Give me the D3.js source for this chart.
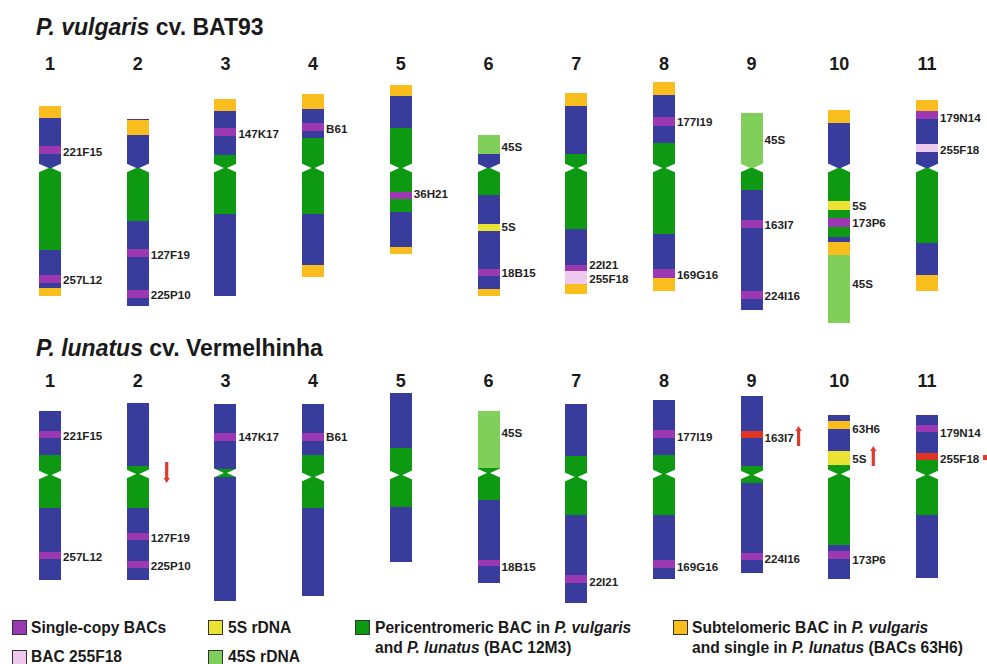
<!DOCTYPE html>
<html>
<head>
<meta charset="utf-8">
<script src="https://cdn.jsdelivr.net/npm/d3@7/dist/d3.min.js"></script>
<style>
  html, body { margin: 0; padding: 0; background: #fff; }
  svg { display: block; font-family: "Liberation Sans", Arial, Helvetica, sans-serif; }
</style>
</head>
<body>
<svg id="chart" width="987" height="664"></svg>
<script>
// Chromosome names (same in both species)
const chromosomes = ["1", "2", "3", "4", "5", "6", "7", "8", "9", "10", "11"];

// Band kinds and their colours
const bandKinds = ["arm", "peri", "sub", "bac", "f18", "r5s", "r45s", "hit"];
const bandColors = ["#383d9d", "#0e9912", "#f9bd1d", "#9c38b2", "#f0c9ee", "#ebe334", "#80cf5a", "#df3326"];

// P. vulgaris: [chromosome, from, to, kind] along the chromosome axis
const vulgarisBands = [
  ["1", 26, 38, "sub"], ["1", 38, 66, "arm"], ["1", 66, 74, "bac"], ["1", 74, 88, "arm"], ["1", 88, 170, "peri"],
  ["1", 170, 195, "arm"], ["1", 195, 203, "bac"], ["1", 203, 208, "arm"], ["1", 208, 216, "sub"],
  ["2", 39, 40, "arm"], ["2", 40, 55, "sub"], ["2", 55, 88, "arm"], ["2", 88, 141, "peri"], ["2", 141, 169, "arm"],
  ["2", 169, 177, "bac"], ["2", 177, 210, "arm"], ["2", 210, 218, "bac"], ["2", 218, 226, "arm"],
  ["3", 19, 31, "sub"], ["3", 31, 48, "arm"], ["3", 48, 56, "bac"], ["3", 56, 75, "arm"], ["3", 75, 134, "peri"],
  ["3", 134, 216, "arm"],
  ["4", 14, 29, "sub"], ["4", 29, 43, "arm"], ["4", 43, 51, "bac"], ["4", 51, 58, "arm"], ["4", 58, 134, "peri"],
  ["4", 134, 185, "arm"], ["4", 185, 197, "sub"],
  ["5", 5, 16, "sub"], ["5", 16, 48, "arm"], ["5", 48, 112, "peri"], ["5", 112, 119, "bac"], ["5", 119, 132, "peri"],
  ["5", 132, 167, "arm"], ["5", 167, 174, "sub"],
  ["6", 55, 74, "r45s"], ["6", 74, 88, "arm"], ["6", 88, 115, "peri"], ["6", 115, 144, "arm"], ["6", 144, 151, "r5s"],
  ["6", 151, 189, "arm"], ["6", 189, 196, "bac"], ["6", 196, 209, "arm"], ["6", 209, 216, "sub"],
  ["7", 13, 26, "sub"], ["7", 26, 74, "arm"], ["7", 74, 149, "peri"], ["7", 149, 185, "arm"], ["7", 185, 191, "bac"],
  ["7", 191, 204, "f18"], ["7", 204, 214, "sub"],
  ["8", 2, 15, "sub"], ["8", 15, 37, "arm"], ["8", 37, 46, "bac"], ["8", 46, 63, "arm"], ["8", 63, 154, "peri"],
  ["8", 154, 189, "arm"], ["8", 189, 198, "bac"], ["8", 198, 211, "sub"],
  ["9", 33, 88, "r45s"], ["9", 88, 110, "peri"], ["9", 110, 140, "arm"], ["9", 140, 148, "bac"], ["9", 148, 211, "arm"],
  ["9", 211, 219, "bac"], ["9", 219, 230, "arm"],
  ["10", 30, 43, "sub"], ["10", 43, 88, "arm"], ["10", 88, 121, "peri"], ["10", 121, 130, "r5s"], ["10", 130, 138, "peri"],
  ["10", 138, 147, "bac"], ["10", 147, 157, "peri"], ["10", 157, 162, "arm"], ["10", 162, 175, "sub"], ["10", 175, 243, "r45s"],
  ["11", 20, 31, "sub"], ["11", 31, 39, "bac"], ["11", 39, 64, "arm"], ["11", 64, 72, "f18"], ["11", 72, 88, "arm"],
  ["11", 88, 163, "peri"], ["11", 163, 195, "arm"], ["11", 195, 211, "sub"]
];
const vulgarisCentromeres = [88, 88, 88, 88, 88, 88, 88, 88, 88, 88, 88];
const vulgarisLabels = [
  ["1", 72, "221F15"], ["1", 200, "257L12"], ["2", 175, "127F19"], ["2", 215, "225P10"], ["3", 54, "147K17"],
  ["4", 49, "B61"], ["5", 114, "36H21"], ["6", 67, "45S"], ["6", 147, "5S"], ["6", 193, "18B15"],
  ["7", 185, "22I21"], ["7", 198.5, "255F18"], ["8", 42, "177I19"], ["8", 195, "169G16"], ["9", 60, "45S"],
  ["9", 145, "163I7"], ["9", 216, "224I16"], ["10", 126, "5S"], ["10", 143, "173P6"], ["10", 204, "45S"],
  ["11", 38, "179N14"], ["11", 70, "255F18"]
];

// P. lunatus
const lunatusBands = [
  ["1", 21, 41, "arm"], ["1", 41, 48, "bac"], ["1", 48, 65, "arm"], ["1", 65, 118, "peri"], ["1", 118, 162, "arm"],
  ["1", 162, 169, "bac"], ["1", 169, 190, "arm"],
  ["2", 13, 76, "arm"], ["2", 76, 118, "peri"], ["2", 118, 143, "arm"], ["2", 143, 150, "bac"], ["2", 150, 171, "arm"],
  ["2", 171, 178, "bac"], ["2", 178, 190, "arm"],
  ["3", 14, 43, "arm"], ["3", 43, 51, "bac"], ["3", 51, 79, "arm"], ["3", 79, 87, "peri"], ["3", 87, 211, "arm"],
  ["4", 14, 43, "arm"], ["4", 43, 51, "bac"], ["4", 51, 65, "arm"], ["4", 65, 118, "peri"], ["4", 118, 206, "arm"],
  ["5", 3, 58, "arm"], ["5", 58, 117, "peri"], ["5", 117, 172, "arm"],
  ["6", 21, 78, "r45s"], ["6", 78, 110, "peri"], ["6", 110, 170, "arm"], ["6", 170, 176, "bac"], ["6", 176, 193, "arm"],
  ["7", 14, 66, "arm"], ["7", 66, 125, "peri"], ["7", 125, 185, "arm"], ["7", 185, 193, "bac"], ["7", 193, 213, "arm"],
  ["8", 10, 40, "arm"], ["8", 40, 48, "bac"], ["8", 48, 65, "arm"], ["8", 65, 125, "peri"], ["8", 125, 170, "arm"],
  ["8", 170, 178, "bac"], ["8", 178, 189, "arm"],
  ["9", 6, 41, "arm"], ["9", 41, 48, "hit"], ["9", 48, 76, "arm"], ["9", 76, 93, "peri"], ["9", 93, 163, "arm"],
  ["9", 163, 170, "bac"], ["9", 170, 183, "arm"],
  ["10", 25, 31, "arm"], ["10", 31, 39, "sub"], ["10", 39, 61, "arm"], ["10", 61, 75, "r5s"], ["10", 75, 155, "peri"],
  ["10", 155, 161, "arm"], ["10", 161, 169, "bac"], ["10", 169, 189, "arm"],
  ["11", 25, 35, "arm"], ["11", 35, 42, "bac"], ["11", 42, 63, "arm"], ["11", 63, 70, "hit"], ["11", 70, 125, "peri"],
  ["11", 125, 188, "arm"]
];
const lunatusCentromeres = [85, 84, 83, 87, 85, 83, 87, 84, 85, 84, 85];
const lunatusLabels = [
  ["1", 46, "221F15"], ["1", 167, "257L12"], ["2", 148, "127F19"], ["2", 176, "225P10"], ["3", 47, "147K17"],
  ["4", 47, "B61"], ["6", 43, "45S"], ["6", 177, "18B15"], ["7", 192, "22I21"], ["8", 47, "177I19"],
  ["8", 177, "169G16"], ["9", 48, "163I7"], ["9", 169, "224I16"], ["10", 39, "63H6"], ["10", 69, "5S"],
  ["10", 170, "173P6"], ["11", 43, "179N14"], ["11", 69, "255F18"]
];
// Arrows: [chromosome, tail, head, offset to the right of the chromosome]
const lunatusArrows = [["2", 72, 93, 29], ["9", 56, 36, 47], ["10", 76, 56, 34]];
// Mark beside 255F18 on chromosome 11
const lunatusMarks = [["11", 65, 70, 56]];

// Legend entries
const legendKinds = ["bac", "f18", "r5s", "r45s", "peri", "sub"];
const legendTexts = [
  [["Single-copy BACs"]],
  [["BAC 255F18"]],
  [["5S rDNA"]],
  [["45S rDNA"]],
  [["Pericentromeric BAC in "], ["P. vulgaris", "i"], ["\n"], ["and "], ["P. lunatus", "i"], [" (BAC 12M3)"]],
  [["Subtelomeric BAC in "], ["P. vulgaris", "i"], ["\n"], ["and single in "], ["P. lunatus", "i"], [" (BACs 63H6)"]]
];

const titles = [
  [["P. vulgaris", "i"], [" cv. BAT93"]],
  [["P. lunatus", "i"], [" cv. Vermelhinha"]]
];

// ---------------------------------------------------------------------------
const svg = d3.select("#chart");
const color = d3.scaleOrdinal().domain(bandKinds).range(bandColors);
const x = d3.scalePoint().domain(chromosomes).range([50, 927]);
const chromWidth = 22;
const notchHalf = 4.5;

const panels = [
  { title: titles[0], titleY: 35, numberY: 70, bands: vulgarisBands, cents: vulgarisCentromeres,
    labels: vulgarisLabels, arrows: [], marks: [],
    y: d3.scaleLinear().domain([0, 250]).range([80, 330]) },
  { title: titles[1], titleY: 356, numberY: 387, bands: lunatusBands, cents: lunatusCentromeres,
    labels: lunatusLabels, arrows: lunatusArrows, marks: lunatusMarks,
    y: d3.scaleLinear().domain([0, 250]).range([390, 640]) }
];

function addRuns(textSel, runs) {
  runs.forEach(r => {
    textSel.append("tspan")
      .attr("font-style", r[1] === "i" ? "italic" : "normal")
      .text(r[0]);
  });
}

panels.forEach(p => {
  const g = svg.append("g");

  // Title
  const t = g.append("text").attr("x", 36).attr("y", p.titleY)
    .attr("font-size", 23).attr("font-weight", "bold").attr("fill", "#1a1a1a");
  addRuns(t, p.title);

  // Chromosome numbers
  g.selectAll("text.num").data(chromosomes).join("text")
    .attr("class", "num")
    .attr("x", d => x(d)).attr("y", p.numberY)
    .attr("text-anchor", "middle").attr("font-size", 18).attr("font-weight", "bold")
    .attr("fill", "#1a1a1a").text(d => d);

  // Bands
  g.selectAll("rect.band").data(p.bands).join("rect")
    .attr("class", "band")
    .attr("x", d => x(d[0]) - chromWidth / 2)
    .attr("y", d => p.y(d[1]))
    .attr("width", chromWidth)
    .attr("height", d => p.y(d[2]) - p.y(d[1]))
    .attr("fill", d => color(d[3]))
    .attr("shape-rendering", "crispEdges");

  // Centromeric constrictions
  const cen = chromosomes.map((c, i) => ({ c, v: p.cents[i] }));
  g.selectAll("path.notch").data(cen).join("path")
    .attr("class", "notch")
    .attr("fill", "#fff")
    .attr("d", d => {
      const cx = x(d.c), cy = p.y(d.v);
      const l = cx - chromWidth / 2 - 0.5, r = cx + chromWidth / 2 + 0.5;
      return `M${l},${cy - notchHalf}L${cx - 1.5},${cy}L${l},${cy + notchHalf}Z` +
             `M${r},${cy - notchHalf}L${cx + 1.5},${cy}L${r},${cy + notchHalf}Z`;
    });

  // Band labels
  g.selectAll("text.lab").data(p.labels).join("text")
    .attr("class", "lab")
    .attr("x", d => x(d[0]) + chromWidth / 2 + 2)
    .attr("y", d => p.y(d[1]))
    .attr("dy", "0.36em")
    .attr("font-size", 11.6).attr("font-weight", "bold").attr("fill", "#1f1f1f")
    .text(d => d[2]);

  // Arrows
  g.selectAll("path.arrow").data(p.arrows).join("path")
    .attr("class", "arrow")
    .attr("fill", "#e03a2e")
    .attr("d", d => {
      const ax = x(d[0]) + d[3];
      const y0 = p.y(d[1]), y1 = p.y(d[2]);
      const dir = y1 > y0 ? 1 : -1;
      const headLen = 5, shaft = 1.6, head = 3.2;
      const yb = y1 - dir * headLen;
      return `M${ax - shaft},${y0}L${ax + shaft},${y0}L${ax + shaft},${yb}L${ax + head},${yb}` +
             `L${ax},${y1}L${ax - head},${yb}L${ax - shaft},${yb}Z`;
    });

  g.selectAll("rect.mark").data(p.marks).join("rect")
    .attr("class", "mark")
    .attr("x", d => x(d[0]) + d[3])
    .attr("y", d => p.y(d[1]))
    .attr("width", 8)
    .attr("height", d => p.y(d[2]) - p.y(d[1]))
    .attr("fill", "#e03a2e");
});

// Legend
const legendPos = [
  { sx: 12, sy: 620, tx: 31, ty: 633 },
  { sx: 12, sy: 650, tx: 31, ty: 662 },
  { sx: 208, sy: 620, tx: 228, ty: 633 },
  { sx: 208, sy: 650, tx: 228, ty: 662 },
  { sx: 355, sy: 620, tx: 375, ty: 633 },
  { sx: 673, sy: 620, tx: 692, ty: 633 }
];
const legend = svg.append("g");
legendKinds.forEach((k, i) => {
  const pos = legendPos[i];
  legend.append("rect")
    .attr("x", pos.sx + 0.5).attr("y", pos.sy + 0.5)
    .attr("width", 14).attr("height", 14)
    .attr("fill", color(k)).attr("stroke", "#333").attr("stroke-width", 1);
  let line = 0;
  let txt = legend.append("text").attr("x", pos.tx).attr("y", pos.ty)
    .attr("font-size", 15.6).attr("font-weight", "bold").attr("fill", "#1a1a1a");
  legendTexts[i].forEach(r => {
    if (r[0] === "\n") {
      line++;
      txt = legend.append("text").attr("x", pos.tx).attr("y", pos.ty + line * 19.5)
        .attr("font-size", 15.6).attr("font-weight", "bold").attr("fill", "#1a1a1a");
    } else {
      txt.append("tspan").attr("font-style", r[1] === "i" ? "italic" : "normal").text(r[0]);
    }
  });
});
</script>
</body>
</html>
